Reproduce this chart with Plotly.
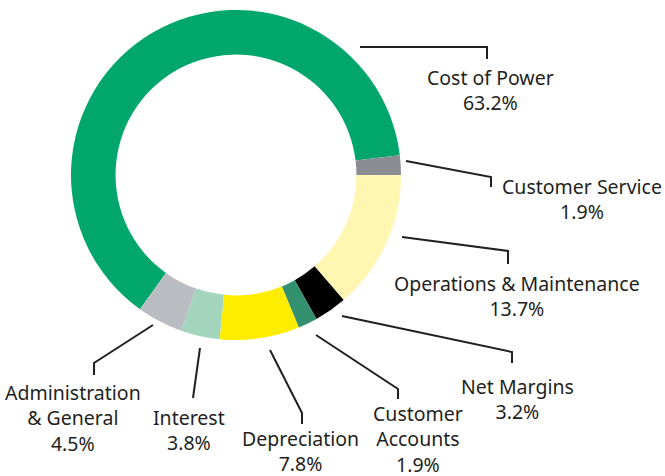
import plotly.graph_objects as go

W, H = 665, 476

# ---- data ----
categories = ["Cost of Power", "Customer Service", "Operations & Maintenance",
              "Net Margins", "Customer Accounts", "Depreciation", "Interest",
              "Administration & General"]
label_lines = ["Cost of Power", "Customer Service", "Operations & Maintenance",
               "Net Margins", "Customer<br>Accounts", "Depreciation", "Interest",
               "Administration<br>& General"]
shares = [63.2, 1.9, 13.7, 3.2, 1.9, 7.8, 3.8, 4.5]
colors = ["#00A66B", "#8A8D91", "#FFF7B1", "#000000", "#33916F",
          "#FFED00", "#A3D5BD", "#B9BDC1"]

# label block centres (px) and leader line vertices (px)
label_pos = [(491, 90), (582, 199), (517, 296), (517, 399),
             (418, 439), (300, 451), (189, 430), (73, 418)]
leaders = [
    [(360, 47), (487, 47), (487, 59)],
    [(406, 161), (491, 177), (491, 187)],
    [(402, 237), (508, 251), (508, 264)],
    [(342, 316), (512, 352), (512, 363)],
    [(316, 335), (398, 389), (398, 399)],
    [(270, 350), (302, 413), (302, 424)],
    [(200, 348), (193, 398)],
    [(153, 325), (94, 363), (94, 375)],
]

def px(x):
    return x / W

def py(y):
    return 1 - y / H

cx, cy, R = 236, 175, 165

fig = go.Figure(go.Pie(
    labels=categories,
    values=shares,
    marker=dict(colors=colors, line=dict(width=0)),
    hole=0.73,
    sort=False,
    direction="clockwise",
    rotation=215.6,
    textinfo="none",
    hoverinfo="label+percent",
    showlegend=False,
    domain=dict(x=[px(cx - R), px(cx + R)], y=[py(cy + R), py(cy - R)]),
))

font = dict(family="Noto Sans, Open Sans, sans-serif", size=19.5, color="#231F20")
annotations = []
for txt, v, (x, y) in zip(label_lines, shares, label_pos):
    annotations.append(dict(
        text=f"{txt}<br>{v:.1f}%", x=px(x), y=py(y), xref="paper", yref="paper",
        xanchor="center", yanchor="middle", showarrow=False, align="center",
        font=font))

shapes = []
for pts in leaders:
    path = "M " + " L ".join(f"{px(x)},{py(y)}" for x, y in pts)
    shapes.append(dict(type="path", path=path, xref="paper", yref="paper",
                       line=dict(color="#231F20", width=2)))

fig.update_layout(
    width=W, height=H,
    margin=dict(l=0, r=0, t=0, b=0),
    paper_bgcolor="white", plot_bgcolor="white",
    annotations=annotations, shapes=shapes,
)

fig.write_html("out.html", config={"displayModeBar": False},
               post_script="document.body.style.margin='0';document.body.style.overflow='hidden';")
